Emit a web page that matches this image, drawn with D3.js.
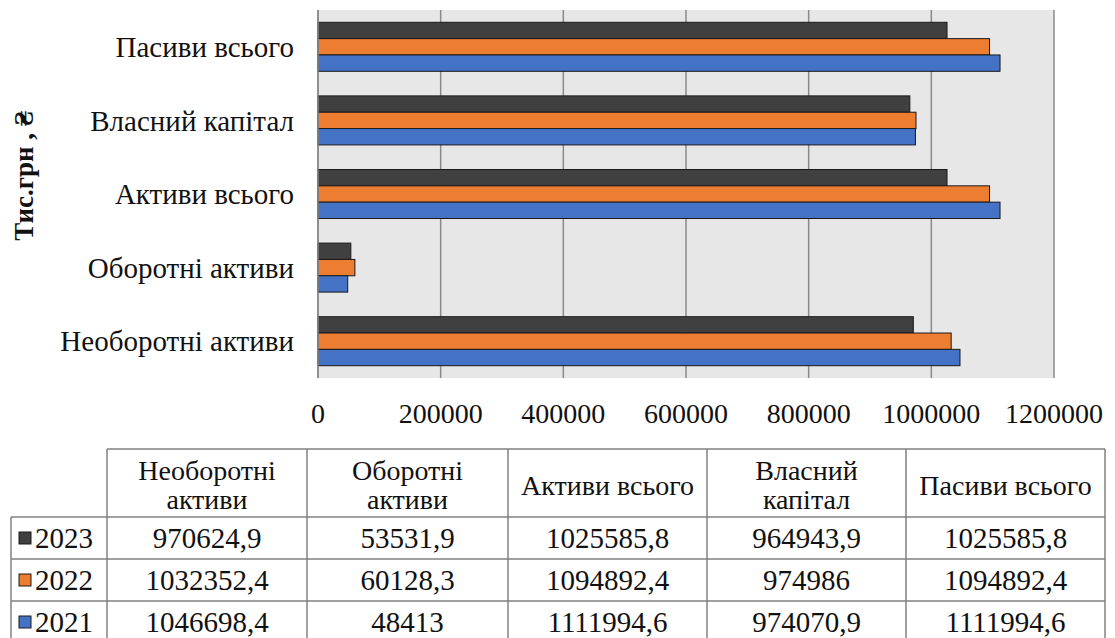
<!DOCTYPE html>
<html>
<head>
<meta charset="utf-8">
<script src="https://cdn.jsdelivr.net/npm/d3@7"></script>
<style>
  body { margin: 0; background: #fff; }
</style>
</head>
<body>
<svg id="chart" width="1115" height="638" font-family="'Liberation Serif', 'DejaVu Serif', serif"></svg>
<script>
// categories, bottom to top as in the chart
const categories = ["Необоротні активи", "Оборотні активи", "Активи всього", "Власний капітал", "Пасиви всього"];
const years = ["2023", "2022", "2021"];
const values2023 = [970624.9, 53531.9, 1025585.8, 964943.9, 1025585.8];
const values2022 = [1032352.4, 60128.3, 1094892.4, 974986, 1094892.4];
const values2021 = [1046698.4, 48413, 1111994.6, 974070.9, 1111994.6];
const xTicks = [0, 200000, 400000, 600000, 800000, 1000000, 1200000];
const headerLabels = [["Необоротні", "активи"], ["Оборотні", "активи"], ["Активи всього"], ["Власний", "капітал"], ["Пасиви всього"]];
const colors = { "2023": "#404040", "2022": "#ED7D31", "2021": "#4472C4" };

const series = { "2023": values2023, "2022": values2022, "2021": values2021 };

const svg = d3.select("#chart");
const plot = { left: 318, right: 1054, top: 10, bottom: 378 };

const x = d3.scaleLinear().domain([0, 1200000]).range([plot.left, plot.right]);
const y = d3.scaleBand().domain(categories).range([plot.bottom, plot.top])
  .paddingInner(0.334).paddingOuter(0.167);
const ySub = d3.scaleBand().domain(years).range([0, y.bandwidth()]);

// plot background
svg.append("rect")
  .attr("x", plot.left).attr("y", plot.top)
  .attr("width", plot.right - plot.left).attr("height", plot.bottom - plot.top)
  .attr("fill", "#e7e7e7");

// gridlines
svg.append("g").selectAll("line")
  .data(xTicks)
  .enter().append("line")
  .attr("x1", d => x(d)).attr("x2", d => x(d))
  .attr("y1", plot.top).attr("y2", plot.bottom)
  .attr("stroke", "#8a8a8a").attr("stroke-width", 1.5);

// bars
const groups = svg.append("g").selectAll("g")
  .data(categories)
  .enter().append("g")
  .attr("transform", d => "translate(0," + y(d) + ")");

groups.selectAll("rect")
  .data((d, i) => years.map(yr => ({ year: yr, value: series[yr][i] })))
  .enter().append("rect")
  .attr("x", x(0))
  .attr("y", d => ySub(d.year))
  .attr("width", d => x(d.value) - x(0))
  .attr("height", ySub.bandwidth())
  .attr("fill", d => colors[d.year])
  .attr("stroke", "#1a1a1a").attr("stroke-width", 1);

// left axis line
svg.append("line")
  .attr("x1", plot.left).attr("x2", plot.left)
  .attr("y1", plot.top).attr("y2", plot.bottom)
  .attr("stroke", "#8a8a8a").attr("stroke-width", 1.5);

// category labels
svg.append("g").selectAll("text")
  .data(categories)
  .enter().append("text")
  .attr("x", 294)
  .attr("y", d => y(d) + y.bandwidth() / 2)
  .attr("dy", "0.35em")
  .attr("text-anchor", "end")
  .attr("font-size", 29)
  .attr("fill", "#111")
  .text(d => d);

// tick labels
svg.append("g").selectAll("text")
  .data(xTicks)
  .enter().append("text")
  .attr("x", d => x(d))
  .attr("y", 423)
  .attr("text-anchor", "middle")
  .attr("font-size", 28)
  .attr("fill", "#111")
  .text(d => d);

// y axis title
svg.append("text")
  .attr("transform", "translate(33,176) rotate(-90)")
  .attr("text-anchor", "middle")
  .attr("font-size", 27)
  .attr("font-weight", "bold")
  .attr("fill", "#111")
  .text("Тис.грн , ₴");

// data table
const colEdges = [107, 307, 508, 707, 906, 1105];
const legendLeft = 11;
const rowEdges = [449, 517, 559, 601, 643];
const tableColor = "#808080";
const table = svg.append("g").attr("fill", "#111");

// header cells
headerLabels.forEach((lines, i) => {
  const cx = (colEdges[i] + colEdges[i + 1]) / 2;
  const cy = (rowEdges[0] + rowEdges[1]) / 2 + 2;
  const t = table.append("text")
    .attr("x", cx).attr("text-anchor", "middle").attr("font-size", 28);
  lines.forEach((ln, j) => {
    t.append("tspan").attr("x", cx)
      .attr("y", cy + (j - (lines.length - 1) / 2) * 29)
      .attr("dy", "0.35em")
      .text(ln);
  });
});

// value rows
years.forEach((yr, r) => {
  const cy = (rowEdges[r + 1] + rowEdges[r + 2]) / 2;
  table.append("rect")
    .attr("x", 19).attr("y", cy - 6)
    .attr("width", 12).attr("height", 12)
    .attr("fill", colors[yr]).attr("stroke", "#1a1a1a").attr("stroke-width", 1);
  table.append("text")
    .attr("x", 35).attr("y", cy).attr("dy", "0.35em")
    .attr("font-size", 29)
    .text(yr);
  series[yr].forEach((v, i) => {
    table.append("text")
      .attr("x", (colEdges[i] + colEdges[i + 1]) / 2)
      .attr("y", cy).attr("dy", "0.35em")
      .attr("text-anchor", "middle")
      .attr("font-size", 29)
      .text(String(v).replace(".", ","));
  });
});

// table grid
colEdges.forEach(cx => {
  table.append("line")
    .attr("x1", cx).attr("x2", cx)
    .attr("y1", rowEdges[0]).attr("y2", rowEdges[rowEdges.length - 1])
    .attr("stroke", tableColor).attr("stroke-width", 1.5);
});
table.append("line")
  .attr("x1", legendLeft).attr("x2", legendLeft)
  .attr("y1", rowEdges[1]).attr("y2", rowEdges[rowEdges.length - 1])
  .attr("stroke", tableColor).attr("stroke-width", 1.5);
rowEdges.forEach((ry, k) => {
  table.append("line")
    .attr("x1", k === 0 ? colEdges[0] : legendLeft).attr("x2", colEdges[colEdges.length - 1])
    .attr("y1", ry).attr("y2", ry)
    .attr("stroke", tableColor).attr("stroke-width", 1.5);
});
</script>
</body>
</html>
